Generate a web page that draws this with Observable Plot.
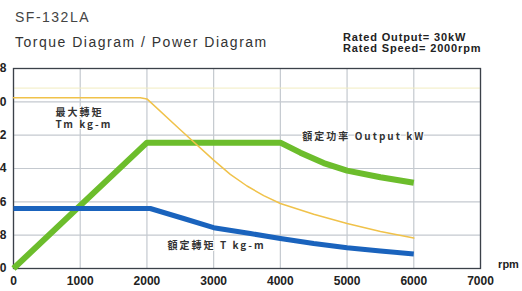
<!DOCTYPE html>
<html>
<head>
<meta charset="utf-8">
<script src="https://cdn.jsdelivr.net/npm/d3@7"></script>
<script src="https://cdn.jsdelivr.net/npm/@observablehq/plot@0.6"></script>
<style>
  html, body { margin: 0; padding: 0; background: #fff; }
  body { position: relative; width: 522px; height: 291px; font-family: "Liberation Sans", Arial, sans-serif; }
  .t { position: absolute; white-space: nowrap; z-index: 2; }
  #model { left: 15px; top: 9px; font-size: 14px; letter-spacing: 1.5px; color: #444; }
  #title { left: 15px; top: 34px; font-size: 14px; letter-spacing: 1.5px; color: #333; }
  #rated { left: 343px; top: 32px; font-size: 11px; line-height: 11px; letter-spacing: 0.85px; font-weight: bold; color: #222; }
</style>
</head>
<body>
<script>
// Max torque Tm (kg-m)
const tmRpm = [0, 1900, 2000, 2500, 3000, 3250, 3500, 3750, 4000, 4500, 5000, 5500, 6000];
const tmVal = [41, 41, 40.7, 33.3, 26, 22.6, 19.8, 17.5, 15.6, 13, 10.8, 8.9, 7.3];
// Rated output (kW)
const outRpm = [0, 2000, 4000, 4300, 4650, 5000, 5500, 6000];
const outVal = [0, 30.2, 30.2, 27.8, 25.3, 23.5, 21.9, 20.6];
// Rated torque T (kg-m)
const tRpm = [0, 2050, 2550, 3000, 3550, 4000, 4500, 5000, 5500, 6000];
const tVal = [14.4, 14.4, 12.0, 9.8, 8.4, 7.2, 6.0, 5.0, 4.2, 3.5];

const xTicks = [0, 1000, 2000, 3000, 4000, 5000, 6000, 7000];
const yTicks = [0, 8, 16, 24, 32, 40, 48];
const paleLevel = [43.3];

// annotations
const labelText = ["最大轉矩", "Tm kg-m", "額定功率 Output kW", "額定轉矩 T kg-m"];
const labelRpm = [630, 630, 4330, 2310];
const labelVal = [37.4, 34.6, 31.7, 5.5];

const toRows = (xs, ys) => xs.map((x, i) => ({x, y: ys[i]}));
const labels = labelText.map((t, i) => ({t, x: labelRpm[i], y: labelVal[i]}));

const x0 = xTicks[0], x1 = xTicks[xTicks.length - 1];
const y0 = yTicks[0], y1 = yTicks[yTicks.length - 1];

const chart = Plot.plot({
  width: 522,
  height: 291,
  marginTop: 68,
  marginBottom: 23,
  marginLeft: 13,
  marginRight: 42,
  style: {fontFamily: "Liberation Sans, Arial, sans-serif", fontWeight: "bold", fontSize: "12px", color: "#222"},
  x: {domain: [x0, x1], ticks: xTicks, tickSize: 0, tickPadding: 8, tickFormat: d => String(d), label: null},
  y: {domain: [y0, y1], ticks: yTicks, tickSize: 0, tickPadding: 7, label: null},
  marks: [
    Plot.ruleX(xTicks, {stroke: "#c4c9cf", strokeWidth: 1.2}),
    Plot.ruleY(yTicks, {stroke: "#c4c9cf", strokeWidth: 1.2}),
    Plot.ruleY(paleLevel, {stroke: "#f1ecc0", strokeWidth: 1}),
    Plot.frame({stroke: "#3b4149", strokeWidth: 1.3}),
    Plot.line(toRows(outRpm, outVal), {x: "x", y: "y", stroke: "#6cbd2c", strokeWidth: 6, strokeLinecap: "butt"}),
    Plot.line(toRows(tmRpm, tmVal), {x: "x", y: "y", stroke: "#f0c24a", strokeWidth: 1.5}),
    Plot.line(toRows(tRpm, tVal), {x: "x", y: "y", stroke: "#1a63bd", strokeWidth: 5, strokeLinecap: "butt"}),
    Plot.text(labels, {x: "x", y: "y", text: "t", textAnchor: "start", fontSize: 10, fill: "#333", stroke: "white", strokeWidth: 2, fontFamily: "Noto Sans CJK TC, Liberation Sans, sans-serif"}),
    Plot.text(["rpm"], {frameAnchor: "bottom-right", dx: 28, dy: -1, textAnchor: "middle", fontSize: 11, fill: "#222"})
  ]
});
document.body.appendChild(chart);
chart.querySelectorAll("text").forEach(t => { if (labelText.includes(t.textContent)) t.style.letterSpacing = "2px"; });

const mk = (id, html) => { const d = document.createElement("div"); d.className = "t"; d.id = id; d.innerHTML = html; document.body.appendChild(d); };
mk("model", "SF-132LA");
mk("title", "Torque Diagram / Power Diagram");
mk("rated", "Rated Output= 30kW<br>Rated Speed= 2000rpm");
</script>
</body>
</html>
